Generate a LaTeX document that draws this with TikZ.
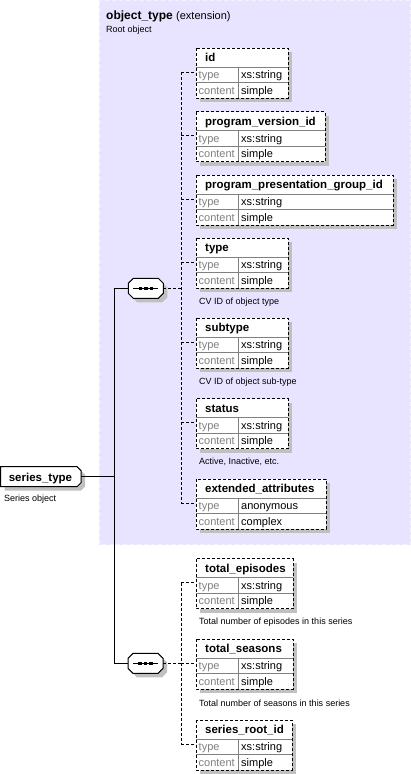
\documentclass[tikz,border=0pt]{standalone}
\usepackage{fontspec}
\setmainfont{Liberation Sans}
\usetikzlibrary{calc}

\definecolor{extfill}{RGB}{232,228,255}
\definecolor{extedge}{RGB}{244,242,255}
\definecolor{shadowgray}{RGB}{192,192,192}
\definecolor{linegray}{RGB}{128,128,128}
\definecolor{keygray}{RGB}{128,128,128}

\tikzset{
  elembox/.style={draw=none, fill=white, inner sep=0pt, outer sep=0pt},
  elemborder/.style={draw=black, line width=1pt, dash pattern=on 3pt off 2pt},
  rowline/.style={draw=linegray, line width=1pt},
  boxshadow/.style={fill=shadowgray},
  headtext/.style={anchor=base west, inner sep=0pt, font=\fontsize{11.5}{13}\selectfont\bfseries},
  keytext/.style={anchor=base west, inner sep=0pt, text=keygray, font=\fontsize{11}{13}\selectfont},
  valtext/.style={anchor=base west, inner sep=0pt, font=\fontsize{11}{13}\selectfont},
  desctext/.style={anchor=base west, inner sep=0pt, font=\fontsize{9}{11}\selectfont},
  dashconn/.style={line width=1pt, dash pattern=on 3pt off 2pt},
  solidconn/.style={line width=1pt},
  seqbox/.style={draw=none, inner sep=0pt, outer sep=0pt, minimum width=35pt, minimum height=20pt},
}

% element box: name, top, width, title, type, content
\newcommand{\xsdelem}[6]{%
  \fill[boxshadow] (200,#2+4) rectangle ++(#3,50);
  \node[elembox, minimum width=#3pt, minimum height=50pt, anchor=north west] (#1) at (196,#2) {};
  \draw[rowline] (196,#2+19) -- ++(#3,0);
  \draw[rowline] (196,#2+34.5) -- ++(#3,0);
  \draw[rowline] (238,#2+19) -- (238,#2+50);
  \node[headtext] (#1-title) at (205,#2+13.5) {#4};
  \node[keytext] (#1-tkey) at (198.5,#2+30.5) {type};
  \node[valtext] (#1-tval) at (241,#2+30.5) {#5};
  \node[keytext] (#1-ckey) at (198.5,#2+46) {content};
  \node[valtext] (#1-cval) at (241,#2+46) {#6};
  \draw[elemborder] (#1.north west) rectangle (#1.south east);
  \coordinate (#1-in) at (196,#2+24);
}

% sequence compositor: name, x, y
\newcommand{\xsdseq}[3]{%
  \fill[boxshadow] (#2-12.5+4,#3-10+4) -- (#2+12.5+4,#3-10+4) -- (#2+17.5+4,#3-5+4)
    -- (#2+17.5+4,#3+5+4) -- (#2+12.5+4,#3+10+4) -- (#2-12.5+4,#3+10+4)
    -- (#2-17.5+4,#3+5+4) -- (#2-17.5+4,#3-5+4) -- cycle;
  \node[seqbox] (#1) at (#2,#3) {};
  \draw[fill=white, line width=1pt] (#2-12.5,#3-10) -- (#2+12.5,#3-10) -- (#2+17.5,#3-5)
    -- (#2+17.5,#3+5) -- (#2+12.5,#3+10) -- (#2-12.5,#3+10)
    -- (#2-17.5,#3+5) -- (#2-17.5,#3-5) -- cycle;
  \draw[line width=1pt] (#2-13,#3) -- (#2+12.5,#3);
  \foreach \dx in {-5.5,0,5.5}
    \fill (#2+\dx-1.7,#3-1.5) rectangle ++(3.4,3);
}

\begin{document}
\begin{tikzpicture}[x=1pt,y=-1pt]
\useasboundingbox (0,0) rectangle (411,774);

% extension area
\fill[extfill] (99,0) rectangle (411,545);
\draw[extedge, dash pattern=on 4pt off 3pt] (99.5,0.5) rectangle (410.5,544.5);
\node[anchor=base west, inner sep=0pt, font=\fontsize{12}{14}\selectfont\bfseries] (objtitle) at (106,19)
  {object\_type {\fontsize{11}{13}\selectfont\mdseries (extension)}};
\node[desctext] (objdesc) at (106,32) {Root object};

% root element
\fill[boxshadow] (4.5,470.7) -- (81,470.7) -- (85,474.7) -- (85,486.7) -- (81,490.7) -- (4.5,490.7) -- cycle;
\node[seqbox, minimum width=81pt] (series) at (40.5,476.7) {};
\draw[fill=white, line width=1pt] (0.5,466.7) -- (77,466.7) -- (81,470.7) -- (81,482.7) -- (77,486.7) -- (0.5,486.7) -- cycle;
\node[anchor=base, inner sep=0pt, font=\fontsize{11.5}{13}\selectfont\bfseries] (series-title) at (40.5,481) {series\_type};
\node[desctext] (series-desc) at (4,501.5) {Series object};

% inherited elements
\xsdelem{id}{48}{92}{id}{xs:string}{simple}
\xsdelem{pvid}{111.5}{129}{program\_version\_id}{xs:string}{simple}
\xsdelem{ppgid}{175}{197}{program\_presentation\_group\_id}{xs:string}{simple}
\xsdelem{type}{238}{92}{type}{xs:string}{simple}
\node[desctext] (type-desc) at (199,304) {CV ID of object type};
\xsdelem{subtype}{318}{92}{subtype}{xs:string}{simple}
\node[desctext] (subtype-desc) at (199,384) {CV ID of object sub-type};
\xsdelem{status}{398.5}{92}{status}{xs:string}{simple}
\node[desctext] (status-desc) at (199,464.5) {Active, Inactive, etc.};
\xsdelem{extattr}{479}{130}{extended\_attributes}{anonymous}{complex}

% own elements
\xsdelem{totep}{558.5}{97}{total\_episodes}{xs:string}{simple}
\node[desctext] (totep-desc) at (199,624.5) {Total number of episodes in this series};
\xsdelem{totseas}{639}{97}{total\_seasons}{xs:string}{simple}
\node[desctext] (totseas-desc) at (199,706) {Total number of seasons in this series};
\xsdelem{srid}{720}{96}{series\_root\_id}{xs:string}{simple}

\xsdseq{seq1}{145.8}{288.3}
\xsdseq{seq2}{145.5}{663.3}

\coordinate (trunk) at (114,476.7);
\coordinate (bus1) at (181,288.3);
\coordinate (bus2) at (181,663.3);

\draw[solidconn] (series.east) -- (series.east -| trunk);
\draw[solidconn] (seq1.west) -| (seq2.west -| trunk) -- (seq2.west);

\draw[dashconn] (seq1.east) -- (bus1);
\draw[dashconn] (id-in -| bus1) -- (extattr-in -| bus1);
\foreach \e in {id,pvid,ppgid,type,subtype,status,extattr}
  \draw[dashconn] (\e-in -| bus1) -- (\e-in);

\draw[dashconn] (seq2.east) -- (bus2);
\draw[dashconn] (totep-in -| bus2) -- (srid-in -| bus2);
\foreach \e in {totep,totseas,srid}
  \draw[dashconn] (\e-in -| bus2) -- (\e-in);
\end{tikzpicture}
\end{document}
